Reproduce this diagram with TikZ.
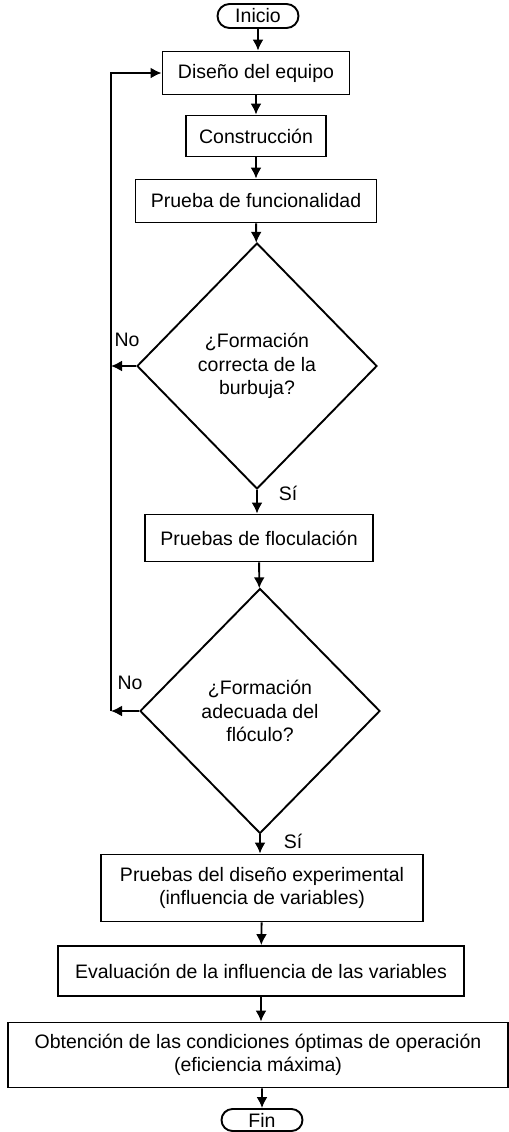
\documentclass[tikz,border=0pt]{standalone}
\usepackage{fontspec}
\setmainfont{Liberation Sans}
\usetikzlibrary{shapes.geometric,shapes.misc,arrows.meta}

\begin{document}
\begin{tikzpicture}[x=0.5pt,y=-0.5pt,
  line width=0.95pt,
  font=\fontsize{9.75}{11.8}\selectfont,
  caja/.style={draw,rectangle,align=center,inner sep=0pt},
  term/.style={draw,rounded rectangle,inner sep=0pt,minimum width=40.5pt,minimum height=12pt},
  rombo/.style={draw,diamond,align=center,inner sep=0pt,minimum width=120pt,minimum height=123pt},
  flecha/.style={-{Latex[length=5.5pt,width=5.5pt]}},
  etiq/.style={inner sep=0pt}]
\useasboundingbox (0,0) rectangle (509,1132);
% bloques
\node[term] (inicio) at (258,16) {Inicio};
\node[caja,minimum width=93.5pt,minimum height=21.5pt] (diseno) at (256,73) {Diseño del equipo};
\node[caja,minimum width=70pt,minimum height=20.5pt] (constr) at (256,136) {Construcción};
\node[caja,minimum width=120.5pt,minimum height=21.5pt] (funcion) at (256,201) {Prueba de funcionalidad};
\node[rombo] (burbuja) at (257,366) {¿Formación\\correcta de la\\burbuja?};
\node[caja,minimum width=114pt,minimum height=23.5pt] (floc) at (259,538) {Pruebas de floculación};
\node[rombo,minimum height=122.5pt] (floculo) at (260,711) {¿Formación\\adecuada del\\flóculo?};
\node[caja,minimum width=161pt,minimum height=33.5pt] (experim) at (262,888) {Pruebas del diseño experimental\\(influencia de variables)};
\node[caja,minimum width=203pt,minimum height=25pt] (evalua) at (261,971) {Evaluación de la influencia de las variables};
\node[caja,minimum width=250pt,minimum height=32.5pt] (optimas) at (258,1055) {Obtención de las condiciones óptimas de operación\\(eficiencia máxima)};
\node[term,minimum height=11pt] (fin) at (262,1120) {Fin};
% flechas
\draw[flecha] (inicio) -- (inicio |- diseno.north);
\draw[flecha] (diseno) -- (constr);
\draw[flecha] (constr) -- (funcion);
\draw[flecha] (funcion) -- (burbuja);
\draw[flecha] (burbuja) -- (burbuja |- floc.north);
\draw[flecha] (floc) -- (floculo);
\draw[flecha] (floculo) -- (floculo |- experim.north);
\draw[flecha] (experim) -- (evalua);
\draw[flecha] (evalua) -- (evalua |- optimas.north);
\draw[flecha] (optimas.south -| fin) -- (fin);
% retorno
\coordinate (lazo) at (111,711);
\draw[flecha] (floculo.west) -- (lazo);
\draw[flecha] (lazo) |- (diseno.west);
\draw[flecha] (burbuja.west) -- (burbuja.west -| lazo);
% etiquetas
\node[etiq] (no1) at (127,340) {No};
\node[etiq] (si1) at (288,493) {Sí};
\node[etiq] (no2) at (130,683) {No};
\node[etiq] (si2) at (293,841) {Sí};
\end{tikzpicture}
\end{document}
